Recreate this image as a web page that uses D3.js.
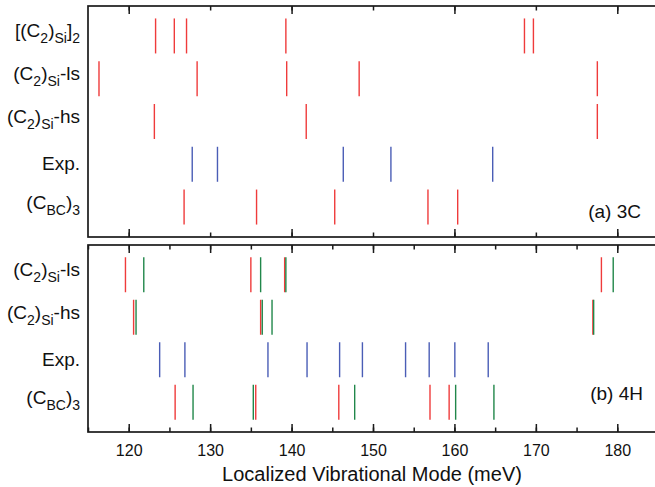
<!DOCTYPE html>
<html>
<head>
<meta charset="utf-8">
<script src="https://cdn.jsdelivr.net/npm/d3@7"></script>
<style>
  body { margin: 0; background: #fff; }
  text { font-family: "Liberation Sans", Arial, sans-serif; fill: #111; }
</style>
</head>
<body>
<svg width="655" height="487"></svg>
<script>
// energies in meV
var xDomain = [115, 185];

// (a) 3C
var rows3C = ["c2si2", "c2siLs", "c2siHs", "exp", "cbc3"];
var c2si2_3C  = [123.3, 125.6, 127.1, 139.3, 168.6, 169.7];
var c2siLs_3C = [116.35, 128.4, 139.4, 148.3, 177.55];
var c2siHs_3C = [123.15, 141.8, 177.55];
var exp_3C    = [127.8, 130.9, 146.35, 152.2, 164.7];
var cbc3_3C   = [126.8, 135.7, 145.3, 156.75, 160.4];

// (b) 4H
var rows4H = ["c2siLs", "c2siHs", "exp", "cbc3"];
var c2siLs_4H_red   = [119.6, 135.0, 139.15, 178.05];
var c2siLs_4H_green = [121.85, 136.2, 139.3, 179.5];
var c2siHs_4H_red   = [120.6, 136.2, 177.0];
var c2siHs_4H_green = [120.9, 136.4, 137.6, 177.1];
var exp_4H          = [123.8, 126.9, 137.1, 141.9, 145.9, 148.7, 154.0, 156.9, 160.05, 164.15];
var cbc3_4H_red     = [125.7, 135.6, 145.8, 157.0, 159.35];
var cbc3_4H_green   = [127.9, 135.3, 147.75, 160.15, 164.85];

// label pieces: [text, isSubscript]
var labelParts = {
  c2si2:  [["[(C", 0], ["2", 1], [")", 0], ["Si", 1], ["]", 0], ["2", 1]],
  c2siLs: [["(C", 0], ["2", 1], [")", 0], ["Si", 1], ["-ls", 0]],
  c2siHs: [["(C", 0], ["2", 1], [")", 0], ["Si", 1], ["-hs", 0]],
  exp:    [["Exp.", 0]],
  cbc3:   [["(C", 0], ["BC", 1], [")", 0], ["3", 1]]
};

var RED = "#ef3b3b", GREEN = "#21874a", BLUE = "#4a5db6";

var svg = d3.select("svg");

var x = d3.scaleLinear()
    .domain(xDomain)
    .range([88, 658]);

var panelA = {top: 6, bottom: 237};
var panelB = {top: 245, bottom: 432};

var yA = d3.scalePoint().domain(rows3C).range([panelA.top, panelA.bottom]).padding(0.7);
var yB = d3.scalePoint().domain(rows4H).range([panelB.top, panelB.bottom]).padding(0.7);

var halfLen = 17.5;

function drawLines(g, y, row, values, color) {
  g.selectAll(null)
    .data(values)
    .enter().append("line")
      .attr("x1", function(d) { return x(d); })
      .attr("x2", function(d) { return x(d); })
      .attr("y1", y(row) - halfLen)
      .attr("y2", y(row) + halfLen)
      .attr("stroke", color)
      .attr("stroke-width", 1.4);
}

function drawLabels(y, rows) {
  rows.forEach(function(r) {
    var hasSub = labelParts[r].some(function(p) { return p[1]; });
    var t = svg.append("text")
      .attr("x", 80)
      .attr("y", y(r) + (hasSub ? 1.5 : 6))
      .attr("text-anchor", "end")
      .style("font-size", "19px");
    var shifted = false;
    labelParts[r].forEach(function(p) {
      var ts = t.append("tspan").text(p[0]);
      if (p[1]) {
        ts.style("font-size", "14px");
        if (!shifted) { ts.attr("dy", 6); shifted = true; }
      } else {
        if (shifted) { ts.attr("dy", -6); shifted = false; }
      }
    });
  });
}

function frame(p) {
  svg.append("rect")
    .attr("x", x.range()[0])
    .attr("y", p.top)
    .attr("width", x.range()[1] - x.range()[0])
    .attr("height", p.bottom - p.top)
    .attr("fill", "none")
    .attr("stroke", "#1a1a1a")
    .attr("stroke-width", 1.7);
}

// panel (a)
var gA = svg.append("g");
drawLines(gA, yA, "c2si2", c2si2_3C, RED);
drawLines(gA, yA, "c2siLs", c2siLs_3C, RED);
drawLines(gA, yA, "c2siHs", c2siHs_3C, RED);
drawLines(gA, yA, "exp", exp_3C, BLUE);
drawLines(gA, yA, "cbc3", cbc3_3C, RED);

// panel (b)
var gB = svg.append("g");
drawLines(gB, yB, "c2siLs", c2siLs_4H_red, RED);
drawLines(gB, yB, "c2siLs", c2siLs_4H_green, GREEN);
drawLines(gB, yB, "c2siHs", c2siHs_4H_red, RED);
drawLines(gB, yB, "c2siHs", c2siHs_4H_green, GREEN);
drawLines(gB, yB, "exp", exp_4H, BLUE);
drawLines(gB, yB, "cbc3", cbc3_4H_red, RED);
drawLines(gB, yB, "cbc3", cbc3_4H_green, GREEN);

function styleTicks(g) {
  g.select(".domain").remove();
  g.selectAll("line").attr("stroke", "#1a1a1a").attr("stroke-width", 1.5);
}

// inward ticks
function ticks(yPos, vals, len) {
  svg.append("g")
    .attr("transform", "translate(0," + yPos + ")")
    .call(d3.axisBottom(x).tickValues(vals).tickSize(len).tickFormat(""))
    .call(styleTicks);
}
// panel a: major every 20, minor every 10
ticks(panelA.top, d3.range(120, 181, 20), 8);
ticks(panelA.top, d3.range(120, 181, 10), 4.5);
ticks(panelA.bottom, d3.range(120, 181, 20), -8);
ticks(panelA.bottom, d3.range(120, 181, 10), -4.5);
// panel b: major every 10, minor every 5
ticks(panelB.top, d3.range(120, 181, 10), 8);
ticks(panelB.top, d3.range(115, 186, 5), 4.5);
ticks(panelB.bottom, d3.range(115, 186, 5), -4.5);

svg.append("g").attr("transform", "translate(0," + panelB.bottom + ")")
  .call(d3.axisBottom(x).tickValues(d3.range(120, 181, 10)).tickSize(-8).tickPadding(13).tickFormat(d3.format("d")))
  .call(styleTicks)
  .call(function(g) {
    g.selectAll("text").attr("fill", "#111").style("font-size", "16px")
      .style("font-family", "'Liberation Sans', Arial, sans-serif");
  });

frame(panelA);
frame(panelB);

drawLabels(yA, rows3C);
drawLabels(yB, rows4H);

svg.append("text")
  .attr("x", 641).attr("y", 218)
  .attr("text-anchor", "end")
  .style("font-size", "19px")
  .text("(a) 3C");

svg.append("text")
  .attr("x", 643).attr("y", 400)
  .attr("text-anchor", "end")
  .style("font-size", "19px")
  .text("(b) 4H");

svg.append("text")
  .attr("x", (88 + 656) / 2).attr("y", 481)
  .attr("text-anchor", "middle")
  .style("font-size", "20px")
  .text("Localized Vibrational Mode (meV)");
</script>
</body>
</html>
